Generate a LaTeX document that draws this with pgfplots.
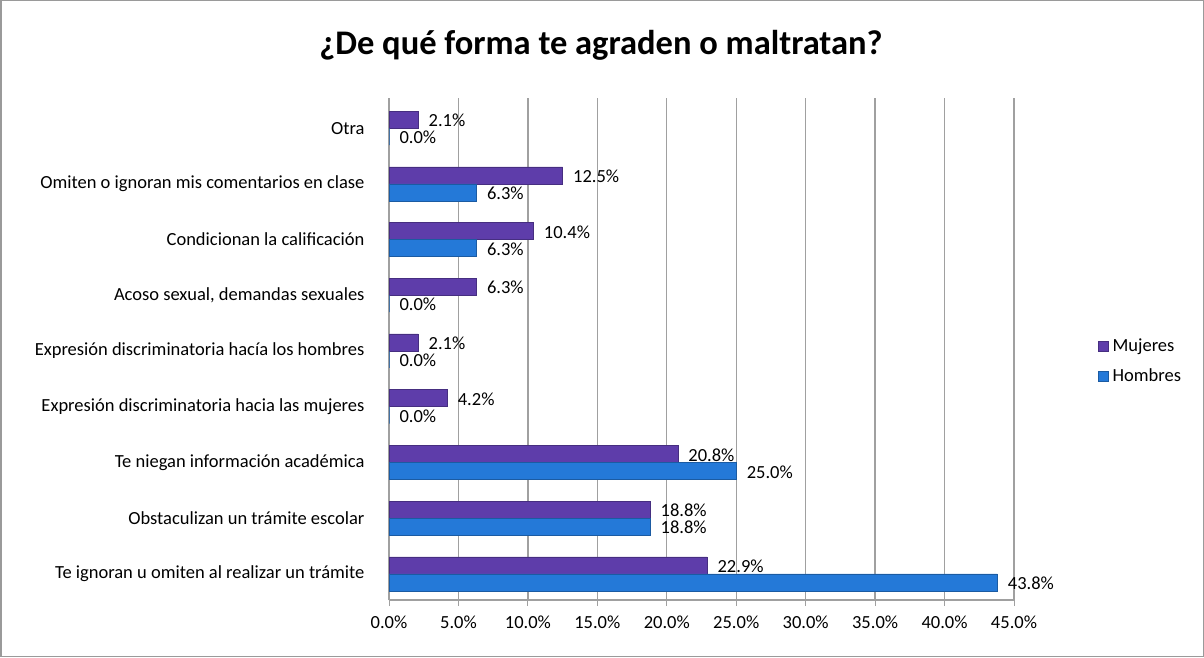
\documentclass[border=0pt]{standalone}
\usepackage{pgfplots}
\pgfplotsset{compat=1.18}
\usepackage{fontspec}
\setmainfont{Carlito}
\definecolor{muj}{HTML}{5E3DAA}
\definecolor{hom}{HTML}{2479D8}
\definecolor{gridc}{HTML}{A0A0A0}
\definecolor{framec}{HTML}{9A9A9A}
\newcommand\lbl{\fontsize{18.5}{22}\selectfont}
\begin{document}
\begin{tikzpicture}[x=1pt,y=1pt]
\draw[framec, line width=1.5pt] (0.75,0.75) rectangle (1203.25,656.25);
\node[font=\fontsize{34.5}{40}\selectfont\bfseries] at (601,612) {¿De qué forma te agraden o maltratan?};
\begin{axis}[
  at={(389pt,57pt)}, anchor=south west, scale only axis,
  width=625pt, height=502pt,
  xbar, bar width=17pt,
  xmin=0, xmax=45, ymin=-0.47, ymax=8.54,
  xtick={0,5,...,45}, ytick={0,...,8},
  yticklabels={Te ignoran u omiten al realizar un trámite,
    Obstaculizan un trámite escolar,
    Te niegan información académica,
    Expresión discriminatoria hacia las mujeres,
    Expresión discriminatoria hacía los hombres,
    {Acoso sexual, demandas sexuales},
    Condicionan la calificación,
    Omiten o ignoran mis comentarios en clase,
    Otra},
  xticklabel={\pgfmathprintnumber[fixed,fixed zerofill,precision=1]{\tick}\%},
  /pgf/number format/assume math mode=true,
  xticklabel style={font=\lbl, yshift=-6pt},
  yticklabel style={font=\lbl, xshift=-15pt},
  xmajorgrids, grid style={gridc, line width=1.3pt},
  axis lines*=left,
  axis line style={gridc, line width=1.3pt},
  major tick length=6pt,
  xtick style={gridc, line width=1pt},
  ytick style={draw=none},
  tick align=outside,
  nodes near coords={\pgfmathprintnumber[fixed,fixed zerofill,precision=1]{\pgfplotspointmeta}\%},
  nodes near coords align={horizontal},
  every node near coord/.append style={font=\lbl, black, xshift=7pt, yshift=-1pt},
  legend style={at={(1.1296,0.476)}, anchor=west, draw=none, fill=none,
    font=\lbl, row sep=12pt,
    /tikz/every odd column/.append style={column sep=2pt}},
  legend cell align=left,
  legend image code/.code={\fill[#1] (0pt,-5pt) rectangle (10pt,5pt);},
]
\addplot[fill=muj, draw=muj!75!black, bar shift=8.5pt] coordinates {
  (22.9,0) (18.8,1) (20.8,2) (4.2,3) (2.1,4) (6.3,5) (10.4,6) (12.5,7) (2.1,8)};
\addplot[fill=hom, draw=hom!75!black, bar shift=-8.5pt] coordinates {
  (43.8,0) (18.8,1) (25.0,2) (0.0,3) (0.0,4) (0.0,5) (6.3,6) (6.3,7) (0.0,8)};
\legend{Mujeres,Hombres}
\end{axis}
\end{tikzpicture}
\end{document}
